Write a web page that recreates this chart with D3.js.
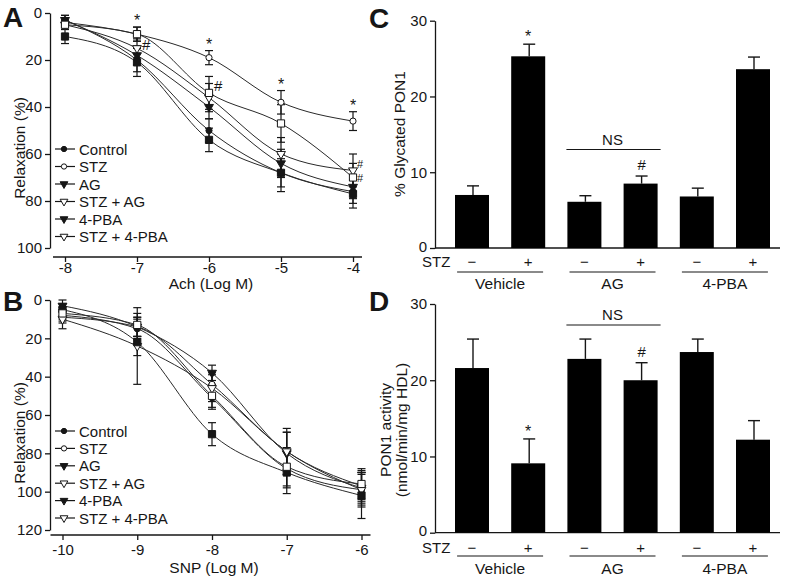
<!DOCTYPE html>
<html><head><meta charset="utf-8">
<script src="https://cdn.jsdelivr.net/npm/d3@7"></script>
<style>
body{margin:0;background:#fff}
svg text{font-family:"Liberation Sans",Arial,Helvetica,sans-serif;fill:#161616}
</style>
</head><body>
<svg id="fig" width="787" height="579"></svg>
<script>
// ---------------- DATA ----------------
const seriesNames = ["Control", "STZ", "AG", "STZ + AG", "4-PBA", "STZ + 4-PBA"];

// Panel A: Ach (Log M) vs Relaxation (%)
const achDoses = [-8, -7, -6, -5, -4];
const achControl    = [3, 20, 50, 68, 76];
const achSTZ        = [4, 9, 19, 38, 46];
const achAG         = [3, 18, 40, 64, 74];
const achSTZAG      = [5, 15, 36, 60, 67];
const achPBA        = [10, 21, 54, 68, 77];
const achSTZPBA     = [5, 9, 34, 47, 70];
const achControlErr = [2, 5, 5, 6, 5];
const achSTZErr     = [2, 3, 3, 5, 4];
const achAGErr      = [2, 4, 5, 6, 5];
const achSTZAGErr   = [2, 4, 6, 7, 7];
const achPBAErr     = [3, 6, 5, 8, 6];
const achSTZPBAErr  = [2, 3, 7, 8, 6];

// Panel B: SNP (Log M) vs Relaxation (%)
const snpDoses = [-10, -9, -8, -7, -6];
const snpControl    = [8, 15, 51, 88, 99];
const snpSTZ        = [9, 14, 44, 79, 97];
const snpAG         = [3, 14, 38, 80, 98];
const snpSTZAG      = [10, 24, 46, 79, 99];
const snpPBA        = [5, 22, 70, 90, 102];
const snpSTZPBA     = [7, 13, 50, 87, 96];
const snpControlErr = [3, 5, 6, 10, 8];
const snpSTZErr     = [3, 5, 6, 12, 8];
const snpAGErr      = [3, 5, 4, 11, 8];
const snpSTZAGErr   = [5, 20, 7, 10, 9];
const snpPBAErr     = [3, 7, 6, 11, 12];
const snpSTZPBAErr  = [3, 6, 6, 10, 8];

// Panels C and D: bars
const barGroups = ["Vehicle", "AG", "4-PBA"];
const stzSigns = ["\u2212", "+", "\u2212", "+", "\u2212", "+"];
const glycatedPON1    = [7.0, 25.3, 6.1, 8.5, 6.8, 23.6];
const glycatedPON1Err = [1.2, 1.6, 0.8, 1.0, 1.1, 1.6];
const pon1Activity    = [21.6, 9.1, 22.8, 20.0, 23.7, 12.2];
const pon1ActivityErr = [3.8, 3.2, 2.6, 2.3, 1.7, 2.5];

const achTicksY = [0, 20, 40, 60, 80, 100];
const snpTicksY = [0, 20, 40, 60, 80, 100, 120];
const barTicksY = [0, 10, 20, 30];

// ---------------- STYLE ----------------
const plotSymbol   = ["circle", "circle", "triangle", "triangle", "square", "square"];
const plotFilled   = [true, false, true, false, true, false];
const legendSymbol = ["circle", "circle", "triangle", "triangle", "triangle", "triangle"];
const ink = "#161616";

const svg = d3.select("#fig");

function symbolPath(type, big) {
  if (type === "circle") return d3.symbol(d3.symbolCircle, big ? 30 : 22)();
  if (type === "square") return d3.symbol(d3.symbolSquare, 52)();
  return d3.symbol(d3.symbolTriangle, big ? 34 : 26)();
}
function drawMarker(g, type, filled, x, y, big) {
  g.append("path")
    .attr("d", symbolPath(type, big))
    .attr("transform", `translate(${x},${y})` + (type === "triangle" ? " rotate(180)" : ""))
    .attr("fill", filled ? ink : "#fff")
    .attr("stroke", ink)
    .attr("stroke-width", 1);
}

function styleAxis(g) {
  g.selectAll("path.domain").attr("stroke", ink).attr("stroke-width", 1.3);
  g.selectAll(".tick line").attr("stroke", ink).attr("stroke-width", 1.3);
  g.selectAll(".tick text").style("font-size", "15px").attr("fill", ink);
}

function linePanel(o) {
  const g = svg.append("g");
  const x = d3.scaleLinear().domain(d3.extent(o.doses)).range(o.xRange);
  const y = d3.scaleLinear().domain([0, o.yMax]).range(o.yRange);

  // y axis
  const ya = g.append("g").attr("transform", `translate(${o.yAxisX},0)`)
    .call(d3.axisLeft(y).tickValues(o.yTicks).tickSize(5).tickSizeOuter(0).tickPadding(3).tickFormat(d => String(d)));
  styleAxis(ya);
  // x axis (offset, Prism style)
  const xa = g.append("g").attr("transform", `translate(0,${o.xAxisY})`)
    .call(d3.axisBottom(x).tickValues(o.doses).tickSize(5).tickSizeOuter(0).tickPadding(o.xPad).tickFormat(d => String(d)));
  xa.select("path.domain").remove();
  xa.append("line").attr("x1", o.xRange[0] - 12).attr("x2", o.xRange[1] + 9)
    .attr("y1", 0).attr("y2", 0).attr("stroke", ink).attr("stroke-width", 1.3);
  styleAxis(xa);

  // titles
  g.append("text").attr("x", (o.xRange[0] + o.xRange[1]) / 2 + 2).attr("y", o.xTitleY)
    .attr("text-anchor", "middle").style("font-size", "15.5px").text(o.xTitle);
  g.append("text").attr("transform", `translate(25,${o.yTitleCenter}) rotate(-90)`)
    .attr("text-anchor", "middle").style("font-size", "15.5px").text("Relaxation (%)");
  g.append("text").attr("x", 3).attr("y", o.letterY).style("font-size", "28px")
    .style("font-weight", "bold").text(o.letter);

  const line = d3.line().x((d, i) => x(o.doses[i])).y(d => y(d)).curve(d3.curveMonotoneX);

  // error bars
  o.means.forEach((m, s) => {
    m.forEach((v, i) => {
      const e = o.errs[s][i];
      const cx = x(o.doses[i]);
      g.append("line").attr("x1", cx).attr("x2", cx).attr("y1", y(v - e)).attr("y2", y(v + e))
        .attr("stroke", ink).attr("stroke-width", 1.2);
      [v - e, v + e].forEach(t => g.append("line").attr("x1", cx - 4).attr("x2", cx + 4)
        .attr("y1", y(t)).attr("y2", y(t)).attr("stroke", ink).attr("stroke-width", 1.2));
    });
  });
  // curves
  o.means.forEach(m => {
    g.append("path").datum(m).attr("d", line).attr("fill", "none")
      .attr("stroke", "#2a2a2a").attr("stroke-width", 1);
  });
  // markers
  o.means.forEach((m, s) => {
    m.forEach((v, i) => drawMarker(g, plotSymbol[s], plotFilled[s], x(o.doses[i]), y(v), true));
  });

  // legend
  seriesNames.forEach((n, s) => {
    const ly = o.legendY + s * o.legendStep;
    g.append("line").attr("x1", 55).attr("x2", 75).attr("y1", ly).attr("y2", ly)
      .attr("stroke", ink).attr("stroke-width", 1.2);
    drawMarker(g, legendSymbol[s], plotFilled[s], 64, ly, false);
    g.append("text").attr("x", 79).attr("y", ly + 5.5).style("font-size", "15px").text(n);
  });
  return {g, x, y};
}

// ---------- Panel A ----------
const A = linePanel({
  doses: achDoses, yMax: 100, xRange: [65, 353], yRange: [13, 248], yTicks: achTicksY,
  yAxisX: 50, xAxisY: 257, xPad: 0, xTitle: "Ach (Log M)", xTitleY: 289, yTitleCenter: 148,
  letter: "A", letterY: 27, legendY: 149, legendStep: 17.5,
  means: [achControl, achSTZ, achAG, achSTZAG, achPBA, achSTZPBA],
  errs: [achControlErr, achSTZErr, achAGErr, achSTZAGErr, achPBAErr, achSTZPBAErr]
});
// significance marks in A
achDoses.forEach((d, i) => {
  if (i === 0) return;
  A.g.append("text").attr("x", A.x(d)).attr("y", A.y(achSTZ[i] - achSTZErr[i]) - 1)
    .attr("text-anchor", "middle").style("font-size", "16px").text("*");
});
A.g.append("text").attr("x", A.x(-7) + 5).attr("y", A.y(achSTZAG[1]) + 2).style("font-size", "15px").text("#");
A.g.append("text").attr("x", A.x(-6) + 5).attr("y", A.y(achSTZPBA[2]) - 2).style("font-size", "15px").text("#");
A.g.append("text").attr("x", A.x(-4) + 4).attr("y", A.y(achSTZAG[4]) - 2).style("font-size", "11px").text("#");
A.g.append("text").attr("x", A.x(-4) + 4).attr("y", A.y(achSTZPBA[4]) + 4).style("font-size", "11px").text("#");

// ---------- Panel B ----------
linePanel({
  doses: snpDoses, yMax: 120, xRange: [62.5, 361.5], yRange: [300, 530], yTicks: snpTicksY,
  yAxisX: 50, xAxisY: 535, xPad: 4, xTitle: "SNP (Log M)", xTitleY: 573, yTitleCenter: 433,
  letter: "B", letterY: 311, legendY: 431, legendStep: 17.4,
  means: [snpControl, snpSTZ, snpAG, snpSTZAG, snpPBA, snpSTZPBA],
  errs: [snpControlErr, snpSTZErr, snpAGErr, snpSTZAGErr, snpPBAErr, snpSTZPBAErr]
});

// ---------- Bar panels ----------
function barPanel(o) {
  const g = svg.append("g");
  const idx = d3.range(o.values.length);
  const x = d3.scalePoint().domain(idx).range([472, 753]);
  const y = d3.scaleLinear().domain([0, 30]).range(o.yRange);
  const bw = 34;

  const ya = g.append("g").attr("transform", "translate(435,0)")
    .call(d3.axisLeft(y).tickValues(barTicksY).tickSize(5).tickSizeOuter(0).tickPadding(3));
  styleAxis(ya);
  ya.selectAll(".tick text").attr("dy", d => d === 0 ? "0.2em" : "0.32em");
  g.append("line").attr("x1", 435).attr("x2", 780).attr("y1", y(0)).attr("y2", y(0))
    .attr("stroke", ink).attr("stroke-width", 1.3);

  // error bars (upper only)
  idx.forEach(i => {
    const cx = x(i) + 1;
    g.append("line").attr("x1", cx).attr("x2", cx).attr("y1", y(o.values[i])).attr("y2", y(o.values[i] + o.errs[i]))
      .attr("stroke", ink).attr("stroke-width", 1.4);
    g.append("line").attr("x1", cx - 6).attr("x2", cx + 6)
      .attr("y1", y(o.values[i] + o.errs[i])).attr("y2", y(o.values[i] + o.errs[i]))
      .attr("stroke", ink).attr("stroke-width", 1.4);
  });
  g.selectAll("rect.bar").data(o.values).join("rect").attr("class", "bar")
    .attr("x", (d, i) => x(i) - bw / 2).attr("width", bw)
    .attr("y", d => y(d)).attr("height", d => y(0) - y(d)).attr("fill", "#000");

  // STZ row
  g.append("text").attr("x", 422).attr("y", o.rowY + 6.5).style("font-size", "15px").text("STZ");
  idx.forEach(i => g.append("text").attr("x", x(i)).attr("y", o.rowY + 6.5)
    .attr("text-anchor", "middle").style("font-size", "15px").text(stzSigns[i]));
  barGroups.forEach((n, k) => {
    const c = (x(2 * k) + x(2 * k + 1)) / 2;
    g.append("line").attr("x1", c - 43).attr("x2", c + 43).attr("y1", o.lineY).attr("y2", o.lineY)
      .attr("stroke", ink).attr("stroke-width", 1.2);
    g.append("text").attr("x", c).attr("y", o.groupY).attr("text-anchor", "middle")
      .style("font-size", "15.5px").text(n);
  });
  // NS bracket over AG group
  const nsC = (x(2) + x(3)) / 2;
  g.append("line").attr("x1", x(2) - 18).attr("x2", x(3) + 20).attr("y1", o.nsY).attr("y2", o.nsY)
    .attr("stroke", ink).attr("stroke-width", 1.2);
  g.append("text").attr("x", nsC).attr("y", o.nsY - 5).attr("text-anchor", "middle")
    .style("font-size", "15px").text("NS");
  // marks
  g.append("text").attr("x", x(1)).attr("y", y(o.values[1] + o.errs[1]) - o.starGap)
    .attr("text-anchor", "middle").style("font-size", "16px").text("*");
  g.append("text").attr("x", x(3) + 1).attr("y", y(o.values[3] + o.errs[3]) - 6)
    .attr("text-anchor", "middle").style("font-size", "15px").text("#");

  // y title
  o.yTitle.forEach((t, k) => {
    g.append("text").attr("transform", `translate(${o.yTitleX[k]},${o.yTitleCenter}) rotate(-90)`)
      .attr("text-anchor", "middle").style("font-size", "15.5px").text(t);
  });
  g.append("text").attr("x", 369).attr("y", o.letterY).style("font-size", "28px")
    .style("font-weight", "bold").text(o.letter);
}

barPanel({
  values: glycatedPON1, errs: glycatedPON1Err, yRange: [248, 20.7],
  rowY: 260, lineY: 272, groupY: 289, nsY: 149.5, starGap: 2,
  yTitle: ["% Glycated PON1"], yTitleX: [405], yTitleCenter: 134, letter: "C", letterY: 28
});
barPanel({
  values: pon1Activity, errs: pon1ActivityErr, yRange: [532.7, 304],
  rowY: 546, lineY: 556, groupY: 574, nsY: 325, starGap: 2,
  yTitle: ["PON1 activity", "(nmol/min/mg HDL)"], yTitleX: [391, 407], yTitleCenter: 430,
  letter: "D", letterY: 311
});
</script>
</body></html>
